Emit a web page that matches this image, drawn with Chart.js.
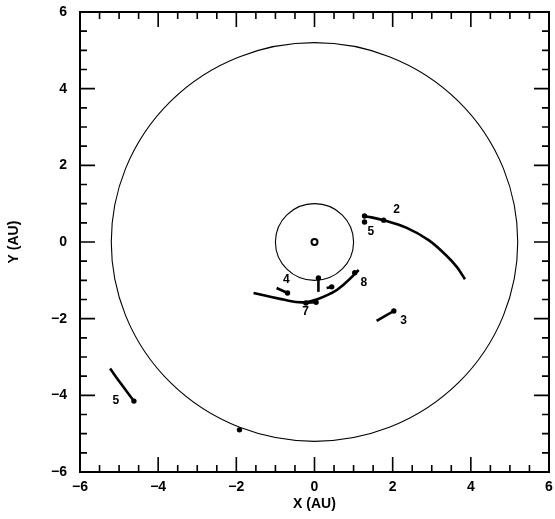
<!DOCTYPE html>
<html>
<head>
<meta charset="utf-8">
<script src="https://cdn.jsdelivr.net/npm/chart.js@4/dist/chart.umd.min.js"></script>
<style>
  html, body { margin: 0; padding: 0; background: #fff; }
  #wrap { width: 555px; height: 519px; }
</style>
</head>
<body>
<div id="wrap"><canvas id="orbits"></canvas></div>
<script>
// orbit circles (AU), centred on the sun
let orbitRadii = [1.0, 5.2];

// comet tracks
let track2 = [{x:1.28,y:0.68},{x:1.77,y:0.57},{x:2.36,y:0.37},{x:2.92,y:0.05},{x:3.36,y:-0.34},{x:3.64,y:-0.65},{x:3.85,y:-0.97}];
let track8 = [{x:-1.56,y:-1.33},{x:-0.85,y:-1.49},{x:-0.23,y:-1.57},{x:0.44,y:-1.33},{x:0.79,y:-1.07},{x:1.13,y:-0.73}];
let track7 = [{x:-0.22,y:-1.59},{x:0.04,y:-1.57}];
let track4 = [{x:-0.97,y:-1.2},{x:-0.69,y:-1.33}];
let track3 = [{x:1.59,y:-2.06},{x:2.03,y:-1.8}];
let track5 = [{x:-5.23,y:-3.3},{x:-4.95,y:-3.7},{x:-4.62,y:-4.15}];
let trackV = [{x:0.1,y:-0.94},{x:0.1,y:-1.3}];
let trackHook = [{x:0.31,y:-1.2},{x:0.44,y:-1.17}];

// dots (object positions)
let dots = [{x:1.28,y:0.68},{x:1.28,y:0.52},{x:1.77,y:0.57},{x:1.03,y:-0.8},{x:-0.22,y:-1.59},{x:0.04,y:-1.57},
            {x:-0.69,y:-1.33},{x:2.03,y:-1.8},{x:-4.62,y:-4.15},{x:0.1,y:-0.94},{x:0.44,y:-1.17},{x:-1.92,y:-4.9}];
let sun = [{x:0,y:0}];

// number labels
let labelText = ['2','5','8','7','4','3','5'];
let labelX = [2.1, 1.44, 1.26, -0.23, -0.72, 2.28, -5.08];
let labelY = [0.84, 0.26, -1.07, -1.83, -0.99, -2.04, -4.15];

// axis ticks
let tickMin = -6, tickMax = 6, tickStep = 2, minorStep = 0.5;

let lineSet = (pts) => ({
  data: pts, showLine: true, tension: 0.4, borderColor: '#000', borderWidth: 2.6,
  pointRadius: 0, fill: false
});

let framePlugin = {
  id: 'frame',
  afterDraw(chart) {
    let {ctx, chartArea: a, scales: {x, y}} = chart;
    ctx.save();
    ctx.strokeStyle = '#000';
    ctx.lineWidth = 2;
    ctx.strokeRect(a.left, a.top, a.right - a.left, a.bottom - a.top);
    ctx.lineWidth = 1.6;
    for (let v = tickMin; v <= tickMax + 1e-9; v += minorStep) {
      let len = (Math.abs(v % tickStep) < 1e-9) ? 15 : 7;
      let px = x.getPixelForValue(v), py = y.getPixelForValue(v);
      ctx.beginPath();
      ctx.moveTo(px, a.bottom); ctx.lineTo(px, a.bottom - len);
      ctx.moveTo(px, a.top); ctx.lineTo(px, a.top + len);
      ctx.moveTo(a.left, py); ctx.lineTo(a.left + len, py);
      ctx.moveTo(a.right, py); ctx.lineTo(a.right - len, py);
      ctx.stroke();
    }
    ctx.restore();
  }
};

let orbitPlugin = {
  id: 'orbitCircles',
  beforeDatasetsDraw(chart) {
    let {ctx, scales: {x, y}} = chart;
    ctx.save();
    ctx.strokeStyle = '#000';
    ctx.lineWidth = 1.1;
    orbitRadii.forEach(r => {
      let cx = x.getPixelForValue(0), cy = y.getPixelForValue(0);
      let rx = x.getPixelForValue(r) - cx, ry = cy - y.getPixelForValue(r);
      ctx.beginPath();
      ctx.ellipse(cx, cy, rx, ry, 0, 0, Math.PI * 2);
      ctx.stroke();
    });
    ctx.restore();
  },
  afterDatasetsDraw(chart) {
    let {ctx, scales: {x, y}} = chart;
    ctx.save();
    ctx.fillStyle = '#000';
    ctx.font = 'bold 12px "Liberation Sans"';
    ctx.textAlign = 'center';
    ctx.textBaseline = 'middle';
    labelText.forEach((t, i) => {
      ctx.fillText(t, x.getPixelForValue(labelX[i]), y.getPixelForValue(labelY[i]));
    });
    ctx.restore();
  }
};

let fmt = (v) => v < 0 ? '\u2212' + Math.abs(v) : String(v);

new Chart(document.getElementById('orbits'), {
  type: 'scatter',
  data: {
    datasets: [
      lineSet(track2), lineSet(track8), lineSet(track7), lineSet(track4),
      lineSet(track3), lineSet(track5), lineSet(trackV), lineSet(trackHook),
      { data: dots, pointRadius: 2.7, backgroundColor: '#000', borderColor: '#000', borderWidth: 0 },
      { data: sun, pointRadius: 3, backgroundColor: '#fff', borderColor: '#000', borderWidth: 2 }
    ]
  },
  options: {
    responsive: true,
    maintainAspectRatio: false,
    animation: false,
    layout: { padding: { left: 0, right: 5, top: 12, bottom: 0 } },
    plugins: { legend: { display: false }, tooltip: { enabled: false } },
    scales: {
      x: {
        type: 'linear', min: tickMin, max: tickMax,
        grid: { display: false, drawTicks: false },
        border: { display: false },
        ticks: { stepSize: tickStep, color: '#000', padding: 7, callback: fmt,
                 font: { family: 'Liberation Sans', size: 14, weight: 'bold' } },
        title: { display: true, text: 'X (AU)', color: '#000', padding: { top: 0, bottom: 6 },
                 font: { family: 'Liberation Sans', size: 14, weight: 'bold' } },
        afterFit: (s) => { s.height = 47; s.paddingLeft = 0; s.paddingRight = 0; }
      },
      y: {
        type: 'linear', min: tickMin, max: tickMax,
        grid: { display: false, drawTicks: false },
        border: { display: false },
        ticks: { stepSize: tickStep, color: '#000', padding: 13, callback: fmt,
                 font: { family: 'Liberation Sans', size: 14, weight: 'bold' } },
        title: { display: true, text: 'Y (AU)', color: '#000', padding: { top: 6, bottom: 0 },
                 font: { family: 'Liberation Sans', size: 14, weight: 'bold' } },
        afterFit: (s) => { s.width = 80; s.paddingTop = 0; s.paddingBottom = 0; }
      }
    }
  },
  plugins: [framePlugin, orbitPlugin]
});
</script>
</body>
</html>
